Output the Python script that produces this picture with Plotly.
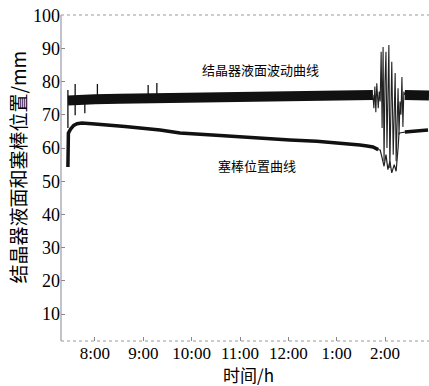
import plotly.graph_objects as go

# ---- data (hours; 13 = 1:00, 14 = 2:00) ----
tick_vals = [8, 9, 10, 11, 12, 13, 14]
tick_text = ["8:00", "9:00", "10:00", "11:00", "12:00", "1:00", "2:00"]
y_ticks = [10, 20, 30, 40, 50, 60, 70, 80, 90, 100]

# mould level band (centre of the noisy band)
level_t = [7.44, 7.6, 7.8, 8.0, 8.5, 9.0, 9.5, 10.0, 10.5, 11.0, 11.5, 12.0,
           12.5, 13.0, 13.5, 13.75, None, 14.41, 14.6, 14.91]
level_mm = [74.3, 74.5, 74.6, 74.7, 74.8, 74.9, 75.0, 75.1, 75.2, 75.3, 75.4,
            75.5, 75.6, 75.8, 75.9, 76.0, None, 76.0, 75.8, 75.8]

# isolated spikes on the level curve
spike_t = [7.44, 7.44, None, 7.59, 7.59, None, 7.79, 7.79, None, 8.05, 8.05,
           None, 9.10, 9.10, None, 9.28, 9.28]
spike_mm = [77.5, 66.0, None, 79.3, 69.9, None, 75.0, 70.5, None, 79.3, 75.0,
            None, 79.0, 75.0, None, 79.6, 75.0]

# level disturbance around 2:00
dist_t = [13.75, 13.77, 13.79, 13.81, 13.83, 13.86, 13.88, 13.90, 13.92, 13.94,
          13.96, 13.98, 14.00, 14.02, 14.04, 14.06, 14.08, 14.10, 14.12, 14.14,
          14.17, 14.19, 14.21, 14.23, 14.25, 14.27, 14.29, 14.31, 14.33, 14.35,
          14.37, 14.39, 14.41]
dist_mm = [76.0, 72.0, 78.5, 70.8, 79.5, 72.0, 77.0, 74.0, 89.0, 66.0,
           90.4, 56.0, 80.0, 89.0, 60.0, 84.0, 91.0, 54.0, 72.0, 86.0,
           58.0, 75.0, 82.6, 56.0, 70.0, 78.0, 64.0, 74.0, 70.0, 81.4,
           66.3, 77.0, 76.0]

# stopper position curve
stop_t = [7.44, 7.45, 7.50, 7.56, 7.63, 7.73, 8.0, 8.62, 9.345, 9.76, 10.59,
          11.35, 12.03, 12.59, 13.07, 13.28, 13.48, 13.63, 13.75, 13.86]
stop_mm = [54.3, 64.5, 65.8, 66.8, 67.3, 67.5, 67.2, 66.5, 65.4, 64.5, 63.8,
           63.0, 62.4, 62.0, 61.5, 61.3, 60.9, 60.6, 60.3, 59.5]

stop_dist_t = [13.86, 13.90, 13.94, 13.98, 14.02, 14.06, 14.10, 14.14, 14.19,
               14.23, 14.27, 14.29, 14.33, 14.41]
stop_dist_mm = [59.5, 59.4, 57.0, 54.5, 58.0, 53.5, 56.0, 52.5, 55.0, 53.0,
                60.0, 64.5, 64.6, 64.8]

stop_after_t = [14.41, 14.72, 14.89]
stop_after_mm = [64.8, 65.2, 65.4]

INK = "#111111"

fig = go.Figure()
fig.add_trace(go.Scatter(x=level_t, y=level_mm, mode="lines",
                         line=dict(color=INK, width=10), hoverinfo="skip"))
fig.add_trace(go.Scatter(x=spike_t, y=spike_mm, mode="lines",
                         line=dict(color=INK, width=1.3), hoverinfo="skip"))
fig.add_trace(go.Scatter(x=dist_t, y=dist_mm, mode="lines",
                         line=dict(color="#222222", width=1.1), hoverinfo="skip"))
fig.add_trace(go.Scatter(x=stop_t, y=stop_mm, mode="lines",
                         line=dict(color=INK, width=3.5), hoverinfo="skip"))
fig.add_trace(go.Scatter(x=stop_dist_t, y=stop_dist_mm, mode="lines",
                         line=dict(color="#222222", width=1.2), hoverinfo="skip"))
fig.add_trace(go.Scatter(x=stop_after_t, y=stop_after_mm, mode="lines",
                         line=dict(color=INK, width=3.5), hoverinfo="skip"))

serif = "Times New Roman, Liberation Serif, DejaVu Serif, serif"
cjk = "Noto Sans CJK SC"

fig.update_layout(
    width=429, height=386,
    margin=dict(l=61, r=0, t=15, b=45),
    paper_bgcolor="white", plot_bgcolor="white",
    showlegend=False,
    xaxis=dict(range=[7.297, 14.91], tickvals=tick_vals, ticktext=tick_text,
               ticks="inside", ticklen=4, tickcolor="#888888", showgrid=False,
               zeroline=False, showline=False, automargin=False,
               tickfont=dict(family=serif, size=17, color="black")),
    yaxis=dict(range=[1.87, 100.06], tickvals=y_ticks,
               ticks="inside", ticklen=4, tickcolor="#888888", showgrid=False,
               zeroline=False, showline=False, automargin=False,
               tickfont=dict(family=serif, size=18, color="black")),
    shapes=[
        dict(type="line", xref="paper", yref="paper", x0=0, x1=1, y0=1, y1=1,
             line=dict(color="#999999", width=1, dash="dot")),
        dict(type="line", xref="paper", yref="paper", x0=0, x1=1, y0=0, y1=0,
             line=dict(color="#999999", width=1, dash="dot")),
        dict(type="line", xref="paper", yref="paper", x0=0, x1=0, y0=0, y1=1,
             line=dict(color="#9a9aaa", width=1.2)),
    ],
    annotations=[
        dict(text="结晶器液面和塞棒位置/mm", xref="paper", yref="paper",
             x=-0.117, y=0.535, xanchor="center", yanchor="middle",
             textangle=-90, showarrow=False,
             font=dict(family=cjk, size=19, color="black")),
        dict(text="时间/h", xref="paper", yref="paper",
             x=0.509, y=-0.104, xanchor="center", yanchor="middle",
             showarrow=False, font=dict(family=cjk, size=17, color="black")),
        dict(text="结晶器液面波动曲线", x=11.414, y=83.5, xanchor="center",
             yanchor="middle", showarrow=False,
             font=dict(family=cjk, size=13, color="black")),
        dict(text="塞棒位置曲线", x=11.35, y=54.6, xanchor="center",
             yanchor="middle", showarrow=False,
             font=dict(family=cjk, size=13, color="black")),
    ],
)

fig.write_html("out.html", config={"displayModeBar": False},
               post_script="document.body.style.margin='0';document.body.style.padding='0';")
